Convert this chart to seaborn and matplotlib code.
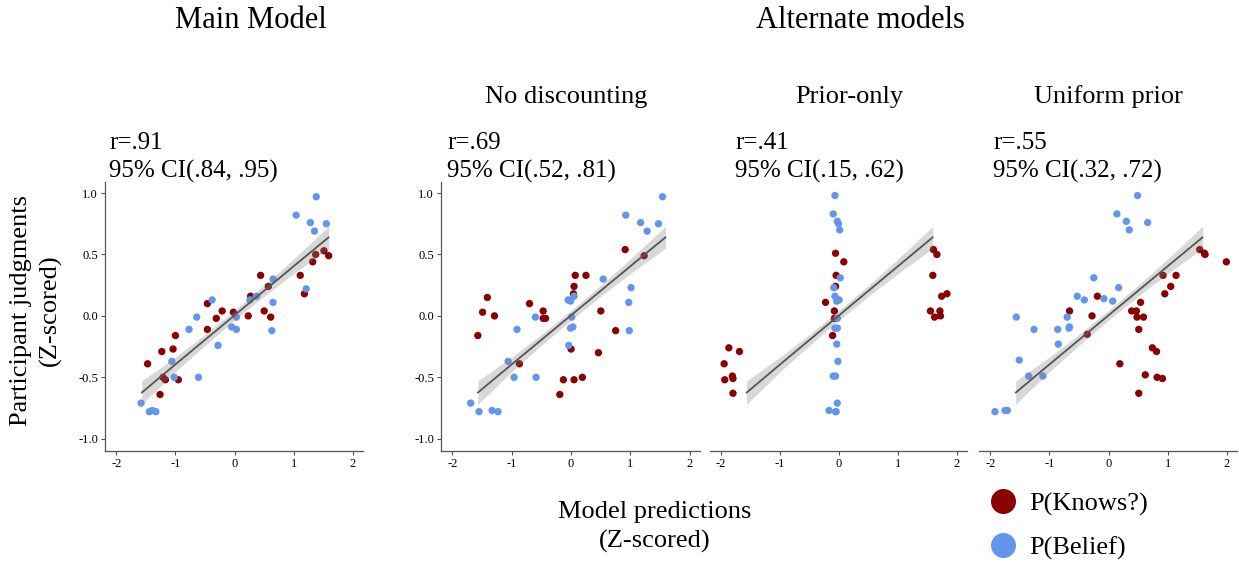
import pandas as pd
import matplotlib.pyplot as plt
import seaborn as sns

# --- data (Z-scored) ---
main_knows_x = [-1.47, -1.23, -1.04, -1.00, -1.17, -1.21, -0.95, -1.26, -0.46, -0.46, -0.31, -0.21, -0.02,
                0.23, 0.27, 0.44, 0.50, 0.57, 0.61, 1.11, 1.18, 1.32, 1.37, 1.51, 1.59]
main_knows_y = [-0.39, -0.29, -0.27, -0.16, -0.52, -0.50, -0.52, -0.64, 0.10, -0.11, -0.02, 0.04, 0.03,
                0.00, 0.16, 0.33, 0.04, 0.24, -0.01, 0.33, 0.18, 0.44, 0.50, 0.53, 0.49]
main_belief_x = [1.38, 1.04, 1.28, 1.55, 1.35, 1.21, 0.65, 0.37, 0.26, 0.65, -0.38, -0.64, -0.77,
                 -0.05, 0.03, 0.03, 0.63, -0.28, -1.06, -1.02, -0.61, -1.58, -1.44, -1.39, -1.33]
main_belief_y = [0.97, 0.82, 0.76, 0.75, 0.69, 0.22, 0.30, 0.16, 0.13, 0.11, 0.13, -0.01, -0.11,
                 -0.09, -0.01, -0.11, -0.12, -0.24, -0.37, -0.50, -0.50, -0.71, -0.78, -0.77, -0.78]

nd_knows_x = [-1.57, -1.49, -1.41, -1.29, -0.87, -0.70, -0.47, -0.47, -0.43, -0.19, -0.13, 0.00,
              0.05, 0.19, 0.04, 0.05, 0.07, 0.25, 0.46, 0.50, 0.75, 0.91, 1.23]
nd_knows_y = [-0.16, 0.03, 0.15, 0.00, -0.39, 0.10, 0.04, -0.02, -0.02, -0.64, -0.52, -0.27,
              -0.52, -0.50, 0.18, 0.24, 0.33, 0.33, -0.30, 0.04, -0.12, 0.54, 0.49]
nd_belief_x = [1.54, 0.92, 1.17, 1.28, 1.47, 0.54, 1.01, 0.97, 0.98, -0.05, -0.01, 0.05, 0.01,
               -0.01, 0.03, -0.04, -0.60, -0.91, -1.06, -0.96, -0.59, -1.69, -1.55, -1.33, -1.23]
nd_belief_y = [0.97, 0.82, 0.76, 0.69, 0.75, 0.30, 0.23, 0.11, -0.12, 0.13, 0.12, 0.16, -0.01,
               -0.10, -0.09, -0.24, -0.01, -0.11, -0.37, -0.50, -0.50, -0.71, -0.78, -0.77, -0.78]

po_knows_x = [-1.87, -1.69, -1.95, -1.94, -1.81, -1.80, -1.80, -0.06, 0.08, -0.05, -0.06, -0.23,
              -0.08, -0.08, -0.11, 1.60, 1.66, 1.59, 1.83, 1.74, 1.55, 1.71, 1.62, 1.72]
po_knows_y = [-0.26, -0.29, -0.39, -0.52, -0.49, -0.51, -0.63, 0.51, 0.44, 0.33, 0.24, 0.11,
              0.04, -0.02, -0.16, 0.54, 0.50, 0.33, 0.18, 0.16, 0.04, 0.04, -0.01, 0.00]
po_belief_x = [-0.07, -0.10, -0.03, -0.01, 0.01, 0.02, -0.09, -0.07, -0.04, 0.00, -0.03, -0.07,
               -0.03, -0.04, -0.02, -0.10, -0.06, -0.03, -0.17, -0.06, -0.05]
po_belief_y = [0.98, 0.83, 0.77, 0.75, 0.70, 0.31, 0.23, 0.16, 0.12, 0.13, -0.02, -0.10,
               -0.10, -0.23, -0.37, -0.49, -0.49, -0.71, -0.77, -0.78, -0.78]

up_knows_x = [1.54, 1.62, 1.63, 1.99, 0.92, 1.14, 1.05, 0.95, -0.19, -0.66, -0.28, -0.36, 0.54,
              0.39, 0.47, 0.48, 0.59, 0.51, 0.74, 0.81, 0.19, 0.62, 0.82, 0.91, 0.51]
up_knows_y = [0.54, 0.51, 0.50, 0.44, 0.33, 0.33, 0.24, 0.18, 0.16, 0.04, 0.00, -0.15, 0.11,
              0.04, 0.04, -0.01, -0.01, -0.11, -0.26, -0.29, -0.39, -0.48, -0.50, -0.51, -0.63]
up_belief_x = [0.49, 0.14, 0.30, 0.35, 0.66, -0.25, 0.17, -0.53, -0.41, -0.08, 0.07, -1.56,
               -0.70, -1.26, -0.86, -0.66, -0.67, -0.85, -1.51, -1.35, -1.11, -1.92, -1.75, -1.71]
up_belief_y = [0.98, 0.83, 0.77, 0.70, 0.76, 0.31, 0.23, 0.16, 0.13, 0.14, 0.12, -0.01,
               -0.01, -0.11, -0.11, -0.09, -0.10, -0.23, -0.36, -0.49, -0.49, -0.78, -0.77, -0.77]

# main model fit line + 95% band (same one drawn in every panel)
fit_x = [-1.57, -1.0, -0.5, 0.0, 0.5, 1.0, 1.59]
fit_y = [-0.625, -0.395, -0.195, 0.005, 0.205, 0.405, 0.64]
fit_lo = [-0.72, -0.455, -0.24, -0.035, 0.16, 0.345, 0.55]
fit_hi = [-0.53, -0.335, -0.15, 0.045, 0.25, 0.465, 0.73]

panel_titles = ['', 'No discounting', 'Prior-only', 'Uniform prior']
r_texts = ['r=.91\n95% CI(.84, .95)', 'r=.69\n95% CI(.52, .81)',
           'r=.41\n95% CI(.15, .62)', 'r=.55\n95% CI(.32, .72)']
labels = ['P(Knows?)', 'P(Belief)']
colors = {'P(Knows?)': '#8B0000', 'P(Belief)': '#6495ED'}

panels = [(main_knows_x, main_knows_y, main_belief_x, main_belief_y),
          (nd_knows_x, nd_knows_y, nd_belief_x, nd_belief_y),
          (po_knows_x, po_knows_y, po_belief_x, po_belief_y),
          (up_knows_x, up_knows_y, up_belief_x, up_belief_y)]

sns.set_theme(style='ticks')
plt.rcParams['font.family'] = ['Liberation Serif', 'DejaVu Serif']
plt.rcParams['text.color'] = 'black'

W, H = 1239, 562
fig = plt.figure(figsize=(W / 100, H / 100), dpi=100)

# axes boxes in pixels: left, right
boxes = [(105, 363), (441, 700), (710, 967), (979, 1237)]
top_px, bot_px = 182, 451
text_left = [109, 447, 735, 993]
title_cx = [0, 566, 849, 1108]

for i, ((kx, ky, bx, by), (l, r)) in enumerate(zip(panels, boxes)):
    ax = fig.add_axes([l / W, 1 - bot_px / H, (r - l) / W, (bot_px - top_px) / H])
    df = pd.DataFrame({'x': kx + bx, 'y': ky + by,
                       'kind': [labels[0]] * len(kx) + [labels[1]] * len(bx)})
    sns.scatterplot(data=df, x='x', y='y', hue='kind', palette=colors, s=28,
                    linewidth=0, legend=False, ax=ax, zorder=2)
    ax.fill_between(fit_x, fit_lo, fit_hi, color='#808080', alpha=0.3, linewidth=0, zorder=3)
    sns.lineplot(x=fit_x, y=fit_y, color='#555555', linewidth=1.3, ax=ax, zorder=4)

    ax.set_xlim(-2.19, 2.17)
    ax.set_ylim(-1.10, 1.09)
    ax.set_xticks([-2, -1, 0, 1, 2])
    ax.set_xticklabels(['-2', '-1', '0', '1', '2'])
    ax.set_yticks([-1.0, -0.5, 0.0, 0.5, 1.0])
    ax.set_yticklabels(['-1.0', '-0.5', '0.0', '0.5', '1.0'])
    ax.set_xlabel('')
    ax.set_ylabel('')
    ax.tick_params(labelsize=9, length=3, width=0.8, pad=2, colors='#555555', labelcolor='black')
    for s in ['top', 'right']:
        ax.spines[s].set_visible(False)
    ax.spines['bottom'].set_color('#555555')
    ax.spines['left'].set_color('#555555')
    ax.spines['bottom'].set_linewidth(0.9)
    ax.spines['left'].set_linewidth(0.9)
    if i >= 2:
        ax.spines['left'].set_visible(False)
        ax.tick_params(axis='y', left=False, labelleft=False)

    fig.text(text_left[i] / W, 1 - 178 / H, r_texts[i], fontsize=18, ha='left',
             va='baseline', linespacing=1.38)
    if panel_titles[i]:
        fig.text(title_cx[i] / W, 1 - 97 / H, panel_titles[i], fontsize=19,
                 ha='center', va='center')

fig.text(251 / W, 1 - 21 / H, 'Main Model', fontsize=22, ha='center', va='center')
fig.text(860 / W, 1 - 21 / H, 'Alternate models', fontsize=22, ha='center', va='center')

fig.text(36 / W, 1 - 310 / H, 'Participant judgments\n(Z-scored)', fontsize=19,
         rotation=90, ha='center', va='center', linespacing=1.35)
fig.text(655 / W, 1 - 527 / H, 'Model predictions\n(Z-scored)', fontsize=19,
         ha='center', va='center', linespacing=1.4)

handles = [plt.Line2D([], [], marker='o', linestyle='', markersize=18,
                      markerfacecolor=colors[k], markeredgewidth=0) for k in labels]
fig.legend(handles, labels, loc='upper left', bbox_to_anchor=(990 / W, 1 - 492 / H),
           frameon=False, fontsize=19, handlelength=1.0, handletextpad=0.5,
           labelspacing=0.75, borderpad=0, borderaxespad=0)

fig.savefig('out.png', dpi=100)
